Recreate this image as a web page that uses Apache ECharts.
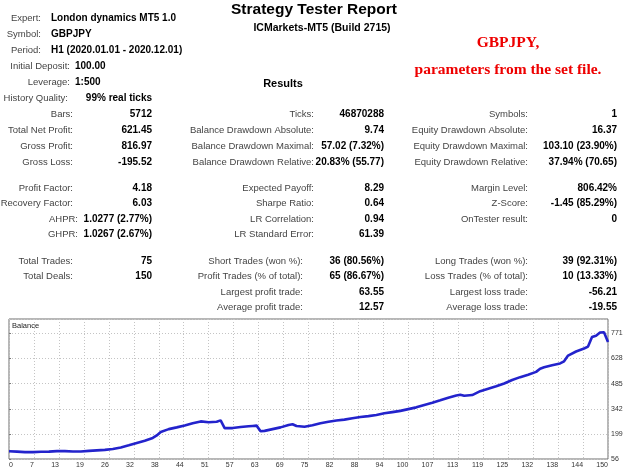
<!DOCTYPE html>
<html>
<head>
<meta charset="utf-8">
<script src="https://cdn.jsdelivr.net/npm/echarts@6/dist/echarts.min.js"></script>
<style>
html,body{margin:0;padding:0;background:#fff;}
#main{width:630px;height:473px;}
</style>
</head>
<body>
<div id="main"></div>
<script>
// ---------- report text data ----------
const titleText = 'Strategy Tester Report';
const subtitleText = 'ICMarkets-MT5 (Build 2715)';
const noteLines = ['GBPJPY,', 'parameters from the set file.'];
const resultsText = 'Results';

const headLabels = ['Expert:', 'Symbol:', 'Period:', 'Initial Deposit:', 'Leverage:', 'History Quality:'];
const headValues = ['London dynamics MT5 1.0', 'GBPJPY', 'H1 (2020.01.01 - 2020.12.01)', '100.00', '1:500', '99% real ticks'];

const col1Labels = ['Bars:', 'Total Net Profit:', 'Gross Profit:', 'Gross Loss:', 'Profit Factor:', 'Recovery Factor:', 'AHPR:', 'GHPR:', 'Total Trades:', 'Total Deals:'];
const col1Values = ['5712', '621.45', '816.97', '-195.52', '4.18', '6.03', '1.0277 (2.77%)', '1.0267 (2.67%)', '75', '150'];

const col2Labels = ['Ticks:', 'Balance Drawdown Absolute:', 'Balance Drawdown Maximal:', 'Balance Drawdown Relative:', 'Expected Payoff:', 'Sharpe Ratio:', 'LR Correlation:', 'LR Standard Error:', 'Short Trades (won %):', 'Profit Trades (% of total):', 'Largest profit trade:', 'Average profit trade:'];
const col2Values = ['46870288', '9.74', '57.02 (7.32%)', '20.83% (55.77)', '8.29', '0.64', '0.94', '61.39', '36 (80.56%)', '65 (86.67%)', '63.55', '12.57'];

const col3Labels = ['Symbols:', 'Equity Drawdown Absolute:', 'Equity Drawdown Maximal:', 'Equity Drawdown Relative:', 'Margin Level:', 'Z-Score:', 'OnTester result:', 'Long Trades (won %):', 'Loss Trades (% of total):', 'Largest loss trade:', 'Average loss trade:'];
const col3Values = ['1', '16.37', '103.10 (23.90%)', '37.94% (70.65)', '806.42%', '-1.45 (85.29%)', '0', '39 (92.31%)', '10 (13.33%)', '-56.21', '-19.55'];

// ---------- balance chart data ----------
const chartTitle = 'Balance';
const xTickLabels = ['0','7','13','19','26','32','38','44','51','57','63','69','75','82','88','94','100','107','113','119','125','132','138','144','150'];
const balanceX = [0,2,4,6,8,10,12,14,16,18,20,22,24,26,28,30,32,34,36,37,38,40,42,44,46,48,50,52,53,54,56,58,60,61,62,63,64,66,68,70,71,72,74,76,78,80,82,84,86,88,90,92,94,96,98,100,102,104,106,108,110,112,113,114,116,118,120,122,124,126,128,130,132,133,134,136,138,139,140,142,144,145,146,147,148,149,150];
const balanceY = [100,98,95,95,97,98,101,101,99,99,102,105,108,113,122,134,147,160,176,190,210,226,236,247,260,270,265,268,276,232,232,238,242,244,246,214,216,226,236,250,254,244,240,248,260,268,275,280,288,295,300,306,316,323,330,340,350,364,376,390,405,418,422,416,420,442,456,470,486,506,522,536,552,570,578,590,600,612,645,668,685,696,750,758,776,778,722];

// ---------- layout (positions / styles) ----------
const FONT = '"Liberation Sans", Arial, sans-serif';
const labelFont = '9.5px ' + FONT;
const valueFont = 'bold 10px ' + FONT;
const labelColor = '#444';
const valueColor = '#000';

const headLayout = [
  {lx:41, vx:51, y:18, va:'left'},
  {lx:41, vx:51, y:34, va:'left'},
  {lx:41, vx:51, y:50, va:'left'},
  {lx:70, vx:75, y:66, va:'left'},
  {lx:70, vx:75, y:82, va:'left'},
  {lx:68, vx:152, y:98, va:'right'}
];
const col1Layout = [
  {lx:73,y:114},{lx:73,y:130},{lx:73,y:146},{lx:73,y:162},{lx:73,y:188},{lx:73,y:203},{lx:78,y:219},{lx:78,y:234},{lx:73,y:261},{lx:73,y:276}
];
const col1VX = 152;
const col2Layout = [
  {lx:314,y:114},{lx:314,y:130},{lx:314,y:146},{lx:314,y:162},{lx:314,y:188},{lx:314,y:203},{lx:314,y:219},{lx:314,y:234},{lx:303,y:261},{lx:303,y:276},{lx:303,y:292},{lx:303,y:307}
];
const col2VX = 384;
const col3Layout = [
  {lx:528,y:114},{lx:528,y:130},{lx:528,y:146},{lx:528,y:162},{lx:528,y:188},{lx:528,y:203},{lx:528,y:219},{lx:528,y:261},{lx:528,y:276},{lx:528,y:292},{lx:528,y:307}
];
const col3VX = 617;

function txt(text, x, y, font, fill, align) {
  return {
    type: 'text', silent: true,
    style: {text: text, x: x, y: y, font: font, fill: fill,
            textAlign: align, textVerticalAlign: 'middle', align: align, verticalAlign: 'middle'}
  };
}

const graphics = [];
graphics.push(txt(titleText, 314, 10, 'bold 15.5px ' + FONT, '#000', 'center'));
graphics.push(txt(subtitleText, 322, 28, 'bold 10.5px ' + FONT, '#000', 'center'));
graphics.push(txt(noteLines[0], 508, 43, 'bold 15.5px "Liberation Serif", "Times New Roman", serif', '#ee0000', 'center'));
graphics.push(txt(noteLines[1], 508, 70, 'bold 15.5px "Liberation Serif", "Times New Roman", serif', '#ee0000', 'center'));
graphics.push(txt(resultsText, 283, 84, 'bold 11px ' + FONT, '#000', 'center'));

headLabels.forEach((l, i) => {
  const p = headLayout[i];
  graphics.push(txt(l, p.lx, p.y, labelFont, labelColor, 'right'));
  graphics.push(txt(headValues[i], p.vx, p.y, valueFont, valueColor, p.va));
});
col1Labels.forEach((l, i) => {
  const p = col1Layout[i];
  graphics.push(txt(l, p.lx, p.y, labelFont, labelColor, 'right'));
  graphics.push(txt(col1Values[i], col1VX, p.y, valueFont, valueColor, 'right'));
});
col2Labels.forEach((l, i) => {
  const p = col2Layout[i];
  graphics.push(txt(l, p.lx, p.y, labelFont, labelColor, 'right'));
  graphics.push(txt(col2Values[i], col2VX, p.y, valueFont, valueColor, 'right'));
});
col3Labels.forEach((l, i) => {
  const p = col3Layout[i];
  graphics.push(txt(l, p.lx, p.y, labelFont, labelColor, 'right'));
  graphics.push(txt(col3Values[i], col3VX, p.y, valueFont, valueColor, 'right'));
});
graphics.push(txt(chartTitle, 12, 326, '7.5px ' + FONT, '#222', 'left'));

const chart = echarts.init(document.getElementById('main'), null, {renderer: 'canvas'});
const xStep = 150 / (xTickLabels.length - 1);
chart.setOption({
  animation: false,
  backgroundColor: '#fff',
  grid: {left: 9, right: 22, top: 319, bottom: 14, show: true, borderColor: '#6e6e6e', borderWidth: 1, backgroundColor: '#fff'},
  xAxis: {
    type: 'value', min: 0, max: 150, interval: xStep,
    axisLine: {show: false}, axisTick: {show: false},
    splitLine: {show: true, lineStyle: {color: '#c4c4c4', type: [1, 2], width: 1}},
    axisLabel: {
      fontSize: 7, fontFamily: 'Liberation Sans', color: '#333', margin: 3, align: 'right', alignMinLabel: 'left',
      formatter: v => xTickLabels[Math.round(v / xStep)] || ''
    }
  },
  yAxis: {
    type: 'value', position: 'right', min: 56, max: 853, interval: 143,
    axisLine: {show: false},
    axisTick: {show: true, length: 2, lineStyle: {color: '#7a7a7a'}},
    splitLine: {show: true, lineStyle: {color: '#c4c4c4', type: [1, 2], width: 1}},
    axisLabel: {fontSize: 7, fontFamily: 'Liberation Sans', color: '#333', margin: 3, showMaxLabel: false}
  },
  series: [{
    type: 'line', showSymbol: false, symbol: 'none',
    data: balanceX.map((x, i) => [x, balanceY[i]]),
    lineStyle: {color: '#2323cc', width: 2.6},
    itemStyle: {color: '#2323cc'}
  }],
  graphic: graphics
});
</script>
</body>
</html>
